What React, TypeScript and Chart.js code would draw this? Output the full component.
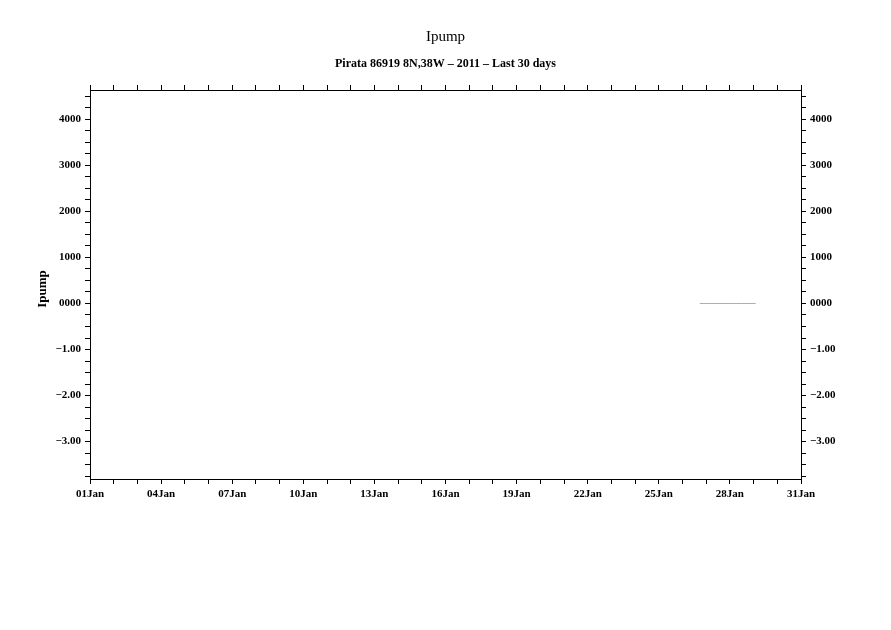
import React, { useEffect, useRef } from "react";
import { Chart, registerables } from "chart.js";

Chart.register(...registerables);

// ---- data ----
const chartTitle = "Ipump";
const chartSubtitle = "Pirata 86919 8N,38W \u2013 2011 \u2013 Last 30 days";
const yAxisTitle = "Ipump";

// days of January 2011 (fractional) where Ipump samples exist
const sampleDays = [26.73, 27.0, 27.5, 28.0, 28.5, 29.09];
const ipumpValues = [0, 0, 0, 0, 0, 0];

// x ticks: every day, labelled every 3 days
const xDayTicks = [
  1, 2, 3, 4, 5, 6, 7, 8, 9, 10, 11, 12, 13, 14, 15, 16, 17, 18, 19, 20, 21,
  22, 23, 24, 25, 26, 27, 28, 29, 30, 31,
];
const xLabelDays = [1, 4, 7, 10, 13, 16, 19, 22, 25, 28, 31];
const xTickLabels = [
  "01Jan", "04Jan", "07Jan", "10Jan", "13Jan", "16Jan",
  "19Jan", "22Jan", "25Jan", "28Jan", "31Jan",
];

// y ticks
const yMajorTicks = [4, 3, 2, 1, 0, -1, -2, -3];
const yTickLabels = ["4000", "3000", "2000", "1000", "0000", "\u22121.00", "\u22122.00", "\u22123.00"];
const yMinorStep = 0.25;
const yMin = -3.815;
const yMax = 4.641;
const xMin = 1;
const xMax = 31;

const W = 891;
const H = 630;
const AREA = { left: 90, right: 801, top: 90, bottom: 479 };

const tickFont = { family: "'Liberation Serif', 'DejaVu Serif', serif", size: 11, weight: "bold" as const };

function yMinorTicks(): number[] {
  const out: number[] = [];
  const start = Math.ceil(yMin / yMinorStep) * yMinorStep;
  for (let v = start; v <= yMax + 1e-9; v += yMinorStep) out.push(Math.round(v * 100) / 100);
  return out;
}

function xLabel(v: number): string {
  const i = xLabelDays.indexOf(v);
  return i >= 0 ? xTickLabels[i] : "";
}
function yLabel(v: number): string {
  const i = yMajorTicks.indexOf(v);
  return i >= 0 ? yTickLabels[i] : "";
}

const titlePlugin = {
  id: "ferretTitles",
  afterDraw(chart: any) {
    const ctx = chart.ctx;
    const cx = (chart.chartArea.left + chart.chartArea.right) / 2;
    ctx.save();
    ctx.fillStyle = "#000";
    ctx.textAlign = "center";
    ctx.textBaseline = "middle";
    ctx.font = "15px 'Liberation Serif', serif";
    ctx.fillText(chartTitle, cx, 37);
    ctx.font = "bold 12px 'Liberation Serif', serif";
    ctx.fillText(chartSubtitle, cx, 64);
    ctx.translate(43, 289);
    ctx.rotate(-Math.PI / 2);
    ctx.font = "bold 13px 'Liberation Serif', serif";
    ctx.fillText(yAxisTitle, 0, 0);
    ctx.restore();
  },
};

function xScale(position: "top" | "bottom", showLabels: boolean) {
  return {
    type: "linear" as const,
    position,
    min: xMin,
    max: xMax,
    afterBuildTicks: (s: any) => {
      s.ticks = xDayTicks.map((v) => ({ value: v }));
    },
    afterFit: (s: any) => {
      s.height = position === "top" ? AREA.top : H - AREA.bottom;
    },
    grid: { drawOnChartArea: false, drawTicks: true, tickLength: 5, tickColor: "#000", tickWidth: 1 },
    border: { display: true, color: "#000", width: 1 },
    ticks: {
      display: showLabels,
      autoSkip: false,
      maxRotation: 0,
      minRotation: 0,
      padding: 4,
      color: "#000",
      font: tickFont,
      callback: (v: any) => xLabel(Number(v)),
    },
  };
}

function yScale(position: "left" | "right") {
  return {
    type: "linear" as const,
    position,
    min: yMin,
    max: yMax,
    afterBuildTicks: (s: any) => {
      s.ticks = yMinorTicks().map((v) => ({ value: v }));
    },
    afterFit: (s: any) => {
      s.width = position === "left" ? AREA.left : W - AREA.right;
    },
    grid: { drawOnChartArea: false, drawTicks: true, tickLength: 5, tickColor: "#000", tickWidth: 1 },
    border: { display: true, color: "#000", width: 1 },
    ticks: {
      autoSkip: false,
      padding: 4,
      color: "#000",
      font: tickFont,
      callback: (v: any) => yLabel(Number(v)),
    },
  };
}

export default function App() {
  const ref = useRef<HTMLCanvasElement | null>(null);
  useEffect(() => {
    if (!ref.current) return;
    const chart = new Chart(ref.current, {
      type: "line",
      data: {
        datasets: [
          {
            label: "Ipump",
            data: sampleDays.map((d, i) => ({ x: d, y: ipumpValues[i] })),
            borderColor: "#ffa500",
            borderWidth: 1,
            pointRadius: 0,
            fill: false,
            tension: 0,
            xAxisID: "x",
            yAxisID: "y",
          },
        ],
      },
      options: {
        responsive: false,
        animation: false,
        devicePixelRatio: 1,
        layout: { padding: 0 },
        plugins: { legend: { display: false }, tooltip: { enabled: false }, title: { display: false } },
        scales: {
          x: xScale("bottom", true),
          xTop: xScale("top", false),
          y: yScale("left"),
          yRight: yScale("right"),
        } as any,
      },
      plugins: [titlePlugin],
    });
    return () => chart.destroy();
  }, []);
  return (
    <div style={{ position: "fixed", left: 0, top: 0, width: W, height: H, background: "#fff" }}>
      <canvas ref={ref} width={W} height={H} style={{ display: "block" }} />
    </div>
  );
}
